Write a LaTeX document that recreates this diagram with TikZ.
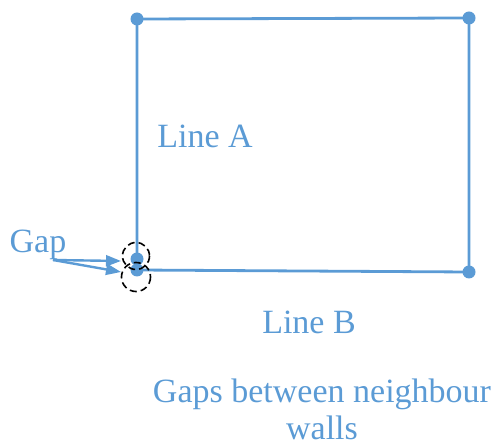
\documentclass[tikz,border=0pt]{standalone}
\usepackage{fontspec}
\setmainfont{Liberation Serif}
\usetikzlibrary{arrows.meta}
\definecolor{wallblue}{HTML}{5B9BD5}
\begin{document}
\begin{tikzpicture}[x=1pt,y=-1pt,
  wall/.style={draw=wallblue,line width=2.8pt},
  enddot/.style={circle,fill=wallblue,inner sep=0pt,minimum size=13pt},
  gapmark/.style={draw=black,line width=1.6pt,dash pattern=on 7pt off 4pt},
  lbl/.style={text=wallblue,font=\fontsize{34}{37}\selectfont,inner sep=0pt},
  pointer/.style={draw=wallblue,line width=2.4pt,-{Triangle[length=15pt,width=11pt]}}]
\useasboundingbox (0,0) rectangle (498,446);
% end points
\node[enddot] (a1) at (137,259) {};
\node[enddot] (a2) at (137,19) {};
\node[enddot] (a3) at (469,18) {};
\node[enddot] (b1) at (469,272) {};
\node[enddot] (b2) at (137,270) {};
% walls
\draw[wall] (a1.center) -- (a2.center) -- (a3.center) -- (b1.center) -- (b2.center);
% gap marks
\draw[gapmark] (136,256) circle (13.5);
\draw[gapmark] (136,277) circle (14.5);
\coordinate (g1) at (121,261);
\coordinate (g2) at (121,272);
% labels
\node[lbl] (gap) at (38,245) {Gap};
\coordinate (gs) at (53,260);
\draw[pointer] (gs) -- (g1);
\draw[pointer] (gs) -- (g2);
\node[lbl] (la) at (205,136) {Line A};
\node[lbl] (lb) at (309,322) {Line B};
\node[lbl,align=center] (cap) at (322,409) {Gaps between neighbour\\walls};
\end{tikzpicture}
\end{document}
